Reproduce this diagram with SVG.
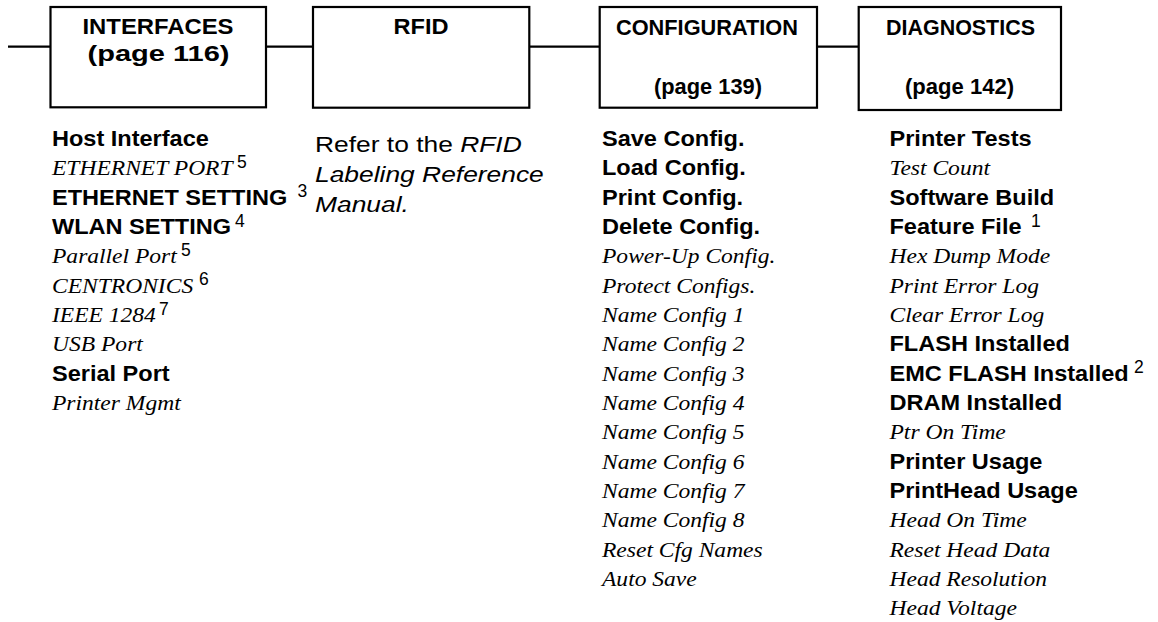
<svg xmlns="http://www.w3.org/2000/svg" width="1158" height="622" viewBox="0 0 1158 622">
<style>
.box{fill:none;stroke:#000;stroke-width:2.2}
.conn{stroke:#000;stroke-width:2.2;fill:none}
.t{font-family:"Liberation Sans",Arial,sans-serif;font-weight:bold;font-size:22px;fill:#000;text-anchor:middle}
.b{font-family:"Liberation Sans",Arial,sans-serif;font-weight:bold;font-size:22px;fill:#000}
.i{font-family:"Liberation Serif","Times New Roman",serif;font-style:italic;font-size:22px;fill:#000}
.r{font-family:"Liberation Sans",Arial,sans-serif;font-size:22px;fill:#000}
.ri{font-family:"Liberation Sans",Arial,sans-serif;font-style:italic;font-size:22px;fill:#000}
.sup{font-family:"Liberation Sans",Arial,sans-serif;font-size:17.5px;fill:#000}
</style>
<rect width="1158" height="622" fill="#fff"/>
<g id="connectors">
<line class="conn" x1="8" y1="46.7" x2="50.5" y2="46.7"/>
<line class="conn" x1="266" y1="46.7" x2="313" y2="46.7"/>
<line class="conn" x1="529.3" y1="46.7" x2="599.7" y2="46.7"/>
<line class="conn" x1="817" y1="46.7" x2="858.7" y2="46.7"/>
</g>
<g id="interfaces">
<rect class="box" x="50.5" y="7" width="215.5" height="100.3"/>
<text class="t" x="158" y="33.5" textLength="151" lengthAdjust="spacingAndGlyphs">INTERFACES</text>
<text class="t" x="158.5" y="60.5" textLength="142" lengthAdjust="spacingAndGlyphs">(page 116)</text>
<g transform="translate(52 0) scale(1.07 1)">
<text class="b" x="0" y="146">Host Interface</text>
<text class="i" x="0" y="175.3">ETHERNET PORT</text>
<text class="b" x="0" y="204.7">ETHERNET SETTING</text>
<text class="b" x="0" y="234">WLAN SETTING</text>
<text class="i" x="0" y="263.3">Parallel Port</text>
<text class="i" x="0" y="292.7">CENTRONICS</text>
<text class="i" x="0" y="322">IEEE 1284</text>
<text class="i" x="0" y="351.3">USB Port</text>
<text class="b" x="0" y="380.7">Serial Port</text>
<text class="i" x="0" y="410">Printer Mgmt</text>
</g>
<text class="sup" x="237" y="167.8">5</text>
<text class="sup" x="297.5" y="197.2">3</text>
<text class="sup" x="235" y="226.5">4</text>
<text class="sup" x="181" y="255.8">5</text>
<text class="sup" x="199" y="285.2">6</text>
<text class="sup" x="159" y="314.5">7</text>
</g>
<g id="rfid">
<rect class="box" x="313" y="7" width="216.3" height="100.7"/>
<text class="t" x="421" y="33.5" textLength="55" lengthAdjust="spacingAndGlyphs">RFID</text>
<g transform="translate(315 0) scale(1.2 1)">
<text class="r" x="0" y="151.7">Refer to the <tspan class="ri">RFID</tspan></text>
<text class="ri" x="0" y="182.3">Labeling Reference</text>
<text class="ri" x="0" y="212.5">Manual.</text>
</g>
</g>
<g id="configuration">
<rect class="box" x="599.7" y="7" width="217.3" height="100.7"/>
<text class="t" x="707" y="35" textLength="182" lengthAdjust="spacingAndGlyphs">CONFIGURATION</text>
<text class="t" x="708" y="94" textLength="108" lengthAdjust="spacingAndGlyphs">(page 139)</text>
<g transform="translate(602 0) scale(1.07 1)">
<text class="b" x="0" y="146">Save Config.</text>
<text class="b" x="0" y="175.3">Load Config.</text>
<text class="b" x="0" y="204.7">Print Config.</text>
<text class="b" x="0" y="234">Delete Config.</text>
<text class="i" x="0" y="263.3">Power-Up Config.</text>
<text class="i" x="0" y="292.7">Protect Configs.</text>
<text class="i" x="0" y="322">Name Config 1</text>
<text class="i" x="0" y="351.3">Name Config 2</text>
<text class="i" x="0" y="380.7">Name Config 3</text>
<text class="i" x="0" y="410">Name Config 4</text>
<text class="i" x="0" y="439.3">Name Config 5</text>
<text class="i" x="0" y="468.7">Name Config 6</text>
<text class="i" x="0" y="498">Name Config 7</text>
<text class="i" x="0" y="527.3">Name Config 8</text>
<text class="i" x="0" y="556.7">Reset Cfg Names</text>
<text class="i" x="0" y="586">Auto Save</text>
</g>
</g>
<g id="diagnostics">
<rect class="box" x="858.7" y="7" width="202.3" height="103"/>
<text class="t" x="960.5" y="35" textLength="149" lengthAdjust="spacingAndGlyphs">DIAGNOSTICS</text>
<text class="t" x="959.5" y="94" textLength="109" lengthAdjust="spacingAndGlyphs">(page 142)</text>
<g transform="translate(889.5 0) scale(1.07 1)">
<text class="b" x="0" y="146">Printer Tests</text>
<text class="i" x="0" y="175.3">Test Count</text>
<text class="b" x="0" y="204.7">Software Build</text>
<text class="b" x="0" y="234">Feature File</text>
<text class="i" x="0" y="263.3">Hex Dump Mode</text>
<text class="i" x="0" y="292.7">Print Error Log</text>
<text class="i" x="0" y="322">Clear Error Log</text>
<text class="b" x="0" y="351.3">FLASH Installed</text>
<text class="b" x="0" y="380.7">EMC FLASH Installed</text>
<text class="b" x="0" y="410">DRAM Installed</text>
<text class="i" x="0" y="439.3">Ptr On Time</text>
<text class="b" x="0" y="468.7">Printer Usage</text>
<text class="b" x="0" y="498">PrintHead Usage</text>
<text class="i" x="0" y="527.3">Head On Time</text>
<text class="i" x="0" y="556.7">Reset Head Data</text>
<text class="i" x="0" y="586">Head Resolution</text>
<text class="i" x="0" y="615.3">Head Voltage</text>
</g>
<text class="sup" x="1031" y="226.5">1</text>
<text class="sup" x="1134" y="373.2">2</text>
</g>
</svg>
